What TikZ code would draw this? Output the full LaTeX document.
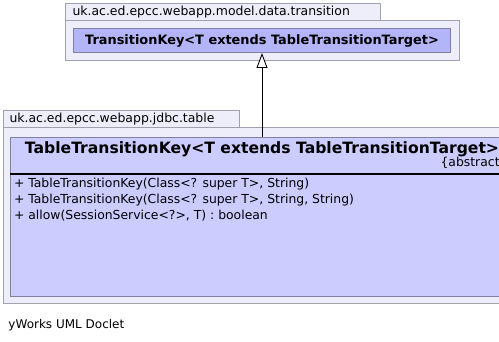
\documentclass[tikz,border=0pt]{standalone}
\usepackage{fontspec}
\setmainfont{DejaVu Sans}
\usetikzlibrary{arrows.meta}

\definecolor{pkgfill}{RGB}{238,238,251}
\definecolor{pkgline}{RGB}{160,160,176}
\definecolor{clsfill}{RGB}{204,204,255}
\definecolor{clsdark}{RGB}{180,180,248}
\definecolor{clsline}{RGB}{128,128,160}

\tikzset{
  pkgtab/.style={draw=pkgline, fill=pkgfill, anchor=north west, inner xsep=7pt,
    inner ysep=0pt, minimum height=17pt, align=left, font=\fontsize{12.45}{14}\selectfont},
  pkgbody/.style={draw=pkgline, fill=pkgfill, anchor=north west, inner sep=0pt},
  classbox/.style={draw=clsline, fill=clsfill, anchor=north west, inner sep=0pt},
  member/.style={anchor=base west, inner sep=0pt, font=\fontsize{12.4}{14}\selectfont},
  inherit/.style={draw=black, line width=0.9pt,
    -{Triangle[length=15pt, width=11pt, fill=white, line width=0.9pt]}},
}

\begin{document}
\begin{tikzpicture}[x=1pt, y=-1pt, line width=1pt]
\useasboundingbox (0,0) rectangle (499,342);
\clip (0,0) rectangle (499,342);

% package: model.data.transition
\node[pkgtab, text width=301pt] (tabA) at (65,3) {uk.ac.ed.epcc.webapp.model.data.transition};
\node[pkgbody, minimum width=394pt, minimum height=40pt] (pkgA) at (65,20) {};
\node[classbox, fill=clsdark, minimum width=377pt, minimum height=24pt] (keyA) at (73,28) {};
\node[font=\bfseries\fontsize{12.9}{14}\selectfont, inner sep=0pt] (titleA) at (keyA.center)
  {TransitionKey<T extends TableTransitionTarget>};

% package: jdbc.table
\node[pkgtab, inner xsep=6pt, text width=224pt] (tabB) at (3,110) {uk.ac.ed.epcc.webapp.jdbc.table};
\node[pkgbody, minimum width=530pt, minimum height=176pt] (pkgB) at (3,127) {};
\node[classbox, minimum width=503pt, minimum height=159pt] (keyB) at (10,137) {};
\node[font=\bfseries\fontsize{15.6}{17}\selectfont, inner sep=0pt, anchor=base] (titleB)
  at ([yshift=-16.3pt]keyB.north) {TableTransitionKey<T extends TableTransitionTarget>};
\node[anchor=base east, inner sep=0pt, font=\fontsize{12.4}{14}\selectfont] (absB)
  at ([xshift=-6pt, yshift=-30pt]keyB.north east) {\{abstract\}};
\draw[line width=2pt] ([yshift=-37.5pt]keyB.north west) -- ([yshift=-37.5pt]keyB.north east);

\node[member] (m1) at ([xshift=3.5pt, yshift=-50.7pt]keyB.north west)
  {+ TableTransitionKey(Class<? super T>, String)};
\node[member] (m2) at ([xshift=3.5pt, yshift=-66.4pt]keyB.north west)
  {+ TableTransitionKey(Class<? super T>, String, String)};
\node[member] (m3) at ([xshift=3.5pt, yshift=-82.1pt]keyB.north west)
  {+ allow(SessionService<?>, T) : boolean};

% generalization
\draw[inherit] (keyB.north) -- (keyA.south);

\node[anchor=base west, inner sep=0pt, font=\fontsize{12}{14}\selectfont] (credit)
  at (8,329) {yWorks UML Doclet};
\end{tikzpicture}
\end{document}
